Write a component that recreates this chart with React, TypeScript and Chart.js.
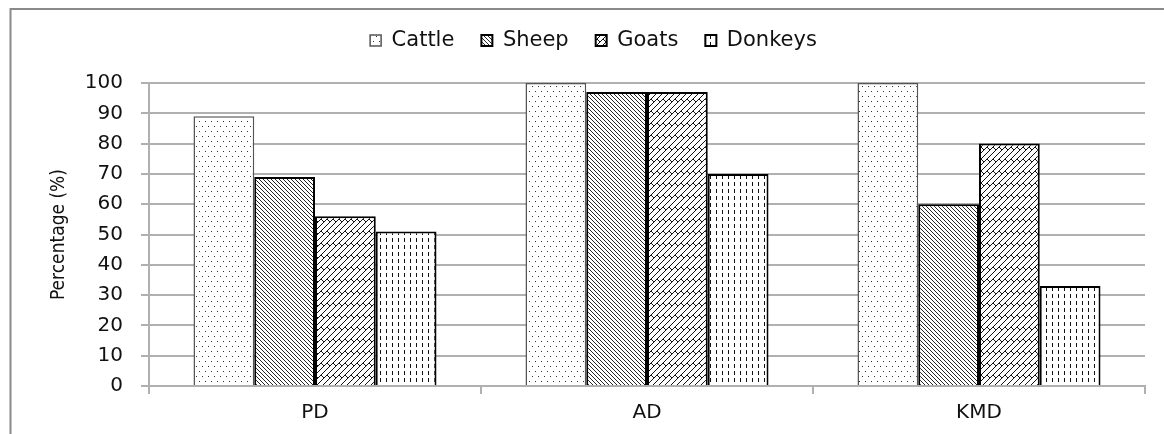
import React, { useEffect, useRef } from "react";
import { Chart, registerables } from "chart.js";

Chart.register(...registerables);

const categories = ["PD", "AD", "KMD"];
const seriesNames = ["Cattle", "Sheep", "Goats", "Donkeys"];
const cattle = [89, 100, 100];
const sheep = [69, 97, 60];
const goats = [56, 97, 80];
const donkeys = [51, 70, 33];
const yMin = 0;
const yMax = 100;
const yStep = 10;
const yTitle = "Percentage (%)";

const W = 1164;
const H = 434;

function makeTile(w: number, h: number, draw: (c: CanvasRenderingContext2D) => void) {
  const c = document.createElement("canvas");
  c.width = w;
  c.height = h;
  const g = c.getContext("2d")!;
  g.fillStyle = "#ffffff";
  g.fillRect(0, 0, w, h);
  draw(g);
  return c;
}

function buildPatterns(ctx: CanvasRenderingContext2D) {
  const dots = makeTile(6, 10, (g) => {
    g.fillStyle = "#333";
    g.fillRect(1, 1, 1, 1);
    g.fillRect(4, 6, 1, 1);
  });
  const diag = makeTile(4, 4, (g) => {
    g.fillStyle = "#262626";
    for (let i = 0; i < 4; i++) g.fillRect(i, i, 1, 1);
  });
  const brick = makeTile(12, 12, (g) => {
    g.strokeStyle = "#111";
    g.lineWidth = 1;
    g.beginPath();
    const seg = (a: number, b: number, c2: number, d: number) => {
      g.moveTo(a, b);
      g.lineTo(c2, d);
    };
    seg(-6, 12, 6, 0);
    seg(0, 12, 12, 0);
    seg(6, 12, 18, 0);
    seg(3, 3, 6, 6);
    seg(9, 3, 12, 6);
    seg(-3, 3, 0, 6);
    seg(9, 15, 12, 18);
    seg(-3, 15, 0, 18);
    seg(3, -9, 6, -6);
    g.stroke();
  });
  const dashes = makeTile(6, 7, (g) => {
    g.fillStyle = "#111";
    g.fillRect(2, 0, 1, 4);
  });
  return [dots, diag, brick, dashes].map((t) => ctx.createPattern(t, "repeat")!);
}

const frameAndLayoutPlugin = {
  id: "frameAndLayout",
  afterInit(chart: any) {
    const legend = chart.legend;
    if (legend && !legend.__patched) {
      const orig = legend.fit.bind(legend);
      legend.fit = function () {
        orig();
        this.height = 80;
      };
      legend.__patched = true;
    }
  },
  afterLayout(chart: any) {
    const legend = chart.legend;
    if (legend) {
      legend.left += 15;
      legend.right += 15;
    }
  },
  beforeDraw(chart: any) {
    const ctx = chart.ctx;
    ctx.save();
    ctx.fillStyle = "#ffffff";
    ctx.fillRect(0, 0, W, H);
    ctx.strokeStyle = "#8a8a8a";
    ctx.lineWidth = 2;
    ctx.beginPath();
    ctx.moveTo(10.5, H);
    ctx.lineTo(10.5, 9);
    ctx.lineTo(W, 9);
    ctx.stroke();
    ctx.restore();
  },
};

export default function App() {
  const ref = useRef<HTMLCanvasElement | null>(null);

  useEffect(() => {
    const canvas = ref.current;
    if (!canvas) return;
    const ctx = canvas.getContext("2d")!;
    const pats = buildPatterns(ctx);
    const seriesData = [cattle, sheep, goats, donkeys];
    const borderColors = ["#555555", "#000000", "#000000", "#000000"];
    const borderWidths = [1.5, 2, 2, 2];
    const gridColor = "#b0b0b0";
    const textColor = "#111111";
    const tickFont = { family: "DejaVu Sans", size: 20 };

    const chart = new Chart(ctx, {
      type: "bar",
      data: {
        labels: categories,
        datasets: seriesNames.map((name, i) => ({
          label: name,
          data: seriesData[i],
          backgroundColor: pats[i] as any,
          borderColor: borderColors[i],
          borderWidth: borderWidths[i],
          categoryPercentage: 0.732,
          barPercentage: 1,
        })),
      },
      options: {
        animation: false,
        responsive: false,
        devicePixelRatio: 1,
        layout: { padding: { left: 12, right: 19, top: 3, bottom: 0 } },
        plugins: {
          legend: {
            position: "top",
            labels: {
              boxWidth: 11,
              boxHeight: 11,
              padding: 27,
              color: textColor,
              font: { family: "DejaVu Sans", size: 21 },
            },
          },
          tooltip: { enabled: false },
        },
        scales: {
          x: {
            grid: {
              display: true,
              drawOnChartArea: false,
              drawTicks: true,
              tickLength: 8,
              color: gridColor,
              lineWidth: 2,
              offset: true,
            },
            border: { display: true, color: gridColor, width: 2 },
            ticks: { padding: 7, color: textColor, font: tickFont },
            afterFit: (s: any) => {
              s.height = H - 386;
            },
          },
          y: {
            min: yMin,
            max: yMax,
            ticks: { stepSize: yStep, padding: 18, color: textColor, font: tickFont },
            grid: { color: gridColor, lineWidth: 2, tickLength: 8 },
            border: { display: true, color: gridColor, width: 2 },
            title: {
              display: true,
              text: yTitle,
              color: textColor,
              font: { family: "DejaVu Sans Condensed", size: 19 },
              padding: { top: 36, bottom: 0 },
            },
            afterFit: (s: any) => {
              s.width = 149 - 12;
            },
          },
        },
      },
      plugins: [frameAndLayoutPlugin as any],
    });
    return () => chart.destroy();
  }, []);

  return (
    <div style={{ position: "absolute", left: 0, top: 0, width: W, height: H }}>
      <canvas ref={ref} width={W} height={H} style={{ display: "block", width: W, height: H }} />
    </div>
  );
}
